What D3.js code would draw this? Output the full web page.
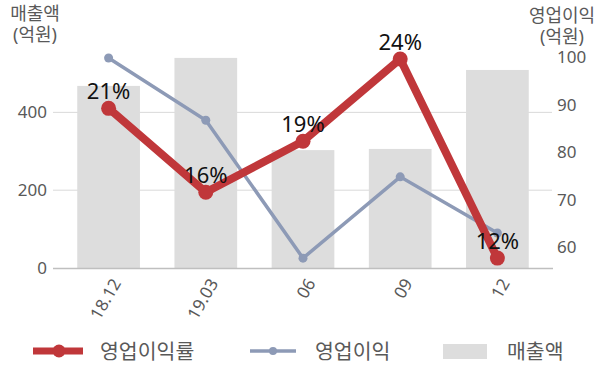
<!DOCTYPE html>
<html>
<head>
<meta charset="utf-8">
<script src="https://cdn.jsdelivr.net/npm/d3@7"></script>
<style>
  body { margin: 0; background: #fff; }
  text { font-family: "Noto Sans", "Noto Sans CJK KR", sans-serif; }
</style>
</head>
<body>
<svg id="chart" width="600" height="383"></svg>
<script>
var categories = ['18.12', '19.03', '06', '09', '12'];
var sales = [468, 540, 303, 306, 509];          // 매출액 (억원), left axis
var profit = [99.8, 86.7, 57.7, 74.8, 63.0];     // 영업이익 (억원), right axis
var margin = [21.2, 16.1, 19.2, 24.2, 12.1];     // 영업이익률 (%)
var leftTicks = [0, 200, 400];
var rightTicks = [60, 70, 80, 90, 100];

var colors = {
    red: '#c0373a',
    blue: '#8d9ab6',
    bar: '#dddddd',
    grid: '#d9d9d9',
    axis: '#bfbfbf',
    text: '#595959'
};

var svg = d3.select('#chart');

var x = d3.scaleBand()
    .domain(categories)
    .range([60, 546])
    .paddingInner(0.355)
    .paddingOuter(0.1775);

var yLeft = d3.scaleLinear().domain([0, 550]).range([268, 54]);
var yRight = d3.scaleLinear().domain([55, 100]).range([271, 57]);
// hidden scale for the margin line
var yMargin = d3.scaleLinear().domain([11.5, 24.5]).range([268, 54]);

function cx(d, i) { return x(categories[i]) + x.bandwidth() / 2; }

// gridlines
svg.append('g').selectAll('line')
    .data(leftTicks.filter(function(d){ return d > 0; }))
    .enter().append('line')
    .attr('x1', 53).attr('x2', 552)
    .attr('y1', function(d){ return yLeft(d); })
    .attr('y2', function(d){ return yLeft(d); })
    .attr('stroke', colors.grid)
    .attr('stroke-width', 1);

// bars
svg.append('g').selectAll('rect')
    .data(sales).enter()
    .append('rect')
    .attr('x', function(d, i){ return x(categories[i]); })
    .attr('y', function(d){ return yLeft(d); })
    .attr('width', x.bandwidth())
    .attr('height', function(d){ return yLeft(0) - yLeft(d); })
    .attr('fill', colors.bar);

// baseline
svg.append('line')
    .attr('x1', 53).attr('x2', 553)
    .attr('y1', yLeft(0) + 0.5).attr('y2', yLeft(0) + 0.5)
    .attr('stroke', colors.axis)
    .attr('stroke-width', 1.5);

// left axis
var gl = svg.append('g')
    .attr('transform', 'translate(53,0)')
    .call(d3.axisLeft(yLeft).tickValues(leftTicks).tickSize(0).tickPadding(6));
gl.select('.domain').remove();
gl.selectAll('text')
    .attr('fill', colors.text)
    .style('font-size', '17px');

// right axis
var gr = svg.append('g')
    .attr('transform', 'translate(552,0)')
    .call(d3.axisRight(yRight).tickValues(rightTicks).tickSize(0).tickPadding(5));
gr.select('.domain').remove();
gr.selectAll('text')
    .attr('fill', colors.text)
    .style('font-size', '17px');

// x labels (rotated)
svg.append('g').selectAll('text')
    .data(categories).enter()
    .append('text')
    .attr('transform', function(d){
        return 'translate(' + (x(d) + x.bandwidth() / 2 + 13) + ',283) rotate(-60)';
    })
    .attr('text-anchor', 'end')
    .attr('fill', colors.text)
    .style('font-size', '17px')
    .text(function(d){ return d; });

// axis titles (two lines each)
var titles = [
    {lines: ['매출액', '(억원)'], x: 35, y: 20},
    {lines: ['영업이익', '(억원)'], x: 562, y: 22}
];
svg.append('g').selectAll('text')
    .data(titles).enter()
    .append('text')
    .attr('y', function(d){ return d.y; })
    .attr('text-anchor', 'middle')
    .attr('fill', colors.text)
    .style('font-size', '18px')
    .each(function(d) {
        d3.select(this).selectAll('tspan')
            .data(d.lines).enter()
            .append('tspan')
            .attr('x', d.x)
            .attr('dy', function(l, i){ return i ? 21 : 0; })
            .text(function(l){ return l; });
    });

// 영업이익 line
var lineRight = d3.line()
    .x(cx)
    .y(function(d){ return yRight(d); });
svg.append('path')
    .datum(profit)
    .attr('d', lineRight)
    .attr('fill', 'none')
    .attr('stroke', colors.blue)
    .attr('stroke-width', 3.5);
svg.append('g').selectAll('circle')
    .data(profit).enter()
    .append('circle')
    .attr('cx', cx)
    .attr('cy', function(d){ return yRight(d); })
    .attr('r', 4.5)
    .attr('fill', colors.blue);

// 영업이익률 line
var lineMargin = d3.line()
    .x(cx)
    .y(function(d){ return yMargin(d); });
svg.append('path')
    .datum(margin)
    .attr('d', lineMargin)
    .attr('fill', 'none')
    .attr('stroke', colors.red)
    .attr('stroke-width', 8)
    .attr('stroke-linejoin', 'round');
svg.append('g').selectAll('circle')
    .data(margin).enter()
    .append('circle')
    .attr('cx', cx)
    .attr('cy', function(d){ return yMargin(d); })
    .attr('r', 7.5)
    .attr('fill', colors.red);
svg.append('g').selectAll('text')
    .data(margin).enter()
    .append('text')
    .attr('x', cx)
    .attr('y', function(d){ return yMargin(d) - 9; })
    .attr('text-anchor', 'middle')
    .attr('fill', '#111')
    .style('font-size', '22px')
    .text(function(d){ return Math.round(d) + '%'; });

// legend
var lg = svg.append('g');
lg.append('line')
    .attr('x1', 33).attr('x2', 83).attr('y1', 351).attr('y2', 351)
    .attr('stroke', colors.red).attr('stroke-width', 7);
lg.append('circle')
    .attr('cx', 59).attr('cy', 351).attr('r', 6.5)
    .attr('fill', colors.red);
lg.append('text')
    .attr('x', 100).attr('y', 359)
    .attr('fill', colors.text).style('font-size', '20.5px')
    .text('영업이익률');

lg.append('line')
    .attr('x1', 250).attr('x2', 296).attr('y1', 351).attr('y2', 351)
    .attr('stroke', colors.blue).attr('stroke-width', 3.5);
lg.append('circle')
    .attr('cx', 273).attr('cy', 351).attr('r', 4)
    .attr('fill', colors.blue);
lg.append('text')
    .attr('x', 315).attr('y', 359)
    .attr('fill', colors.text).style('font-size', '20.5px')
    .text('영업이익');

lg.append('rect')
    .attr('x', 443).attr('y', 344).attr('width', 44).attr('height', 15)
    .attr('fill', colors.bar);
lg.append('text')
    .attr('x', 507).attr('y', 359)
    .attr('fill', colors.text).style('font-size', '20.5px')
    .text('매출액');
</script>
</body>
</html>
